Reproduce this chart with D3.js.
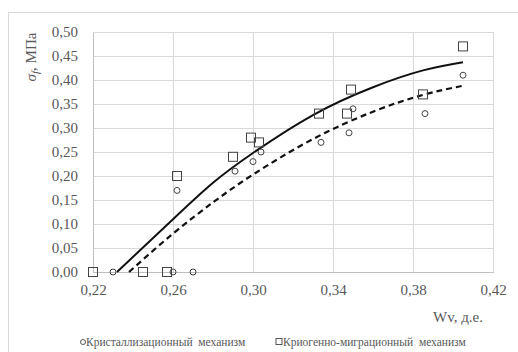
<!DOCTYPE html>
<html><head><meta charset="utf-8">
<script src="https://cdn.jsdelivr.net/npm/d3@7/dist/d3.min.js"></script>
<style>body{margin:0;background:#fff}svg{display:block}</style>
</head><body><svg id="c" width="518" height="352" font-family="Liberation Serif"></svg>
<script>
// Data
const xTicks = [0.22, 0.26, 0.30, 0.34, 0.38, 0.42];
const yTicks = [0, 0.05, 0.10, 0.15, 0.20, 0.25, 0.30, 0.35, 0.40, 0.45, 0.50];
const seriesNames = ["Кристаллизационный  механизм", "Криогенно-миграционный  механизм"];
// Crystallization mechanism (circles)
const crystX = [0.230, 0.260, 0.270, 0.262, 0.291, 0.300, 0.304, 0.334, 0.348, 0.350, 0.386, 0.405];
const crystY = [0.00, 0.00, 0.00, 0.17, 0.21, 0.23, 0.25, 0.27, 0.29, 0.34, 0.33, 0.41];
// Cryogenic-migration mechanism (squares)
const cryoX = [0.220, 0.245, 0.257, 0.262, 0.290, 0.299, 0.303, 0.333, 0.347, 0.349, 0.385, 0.405];
const cryoY = [0.00, 0.00, 0.00, 0.20, 0.24, 0.28, 0.27, 0.33, 0.33, 0.38, 0.37, 0.47];
// Trend lines
const trendCryoX = [0.232, 0.26, 0.28, 0.30, 0.33, 0.36, 0.385, 0.405];
const trendCryoY = [0.000, 0.110, 0.186, 0.248, 0.327, 0.385, 0.420, 0.437];
const trendCrystX = [0.238, 0.26, 0.28, 0.30, 0.33, 0.36, 0.385, 0.405];
const trendCrystY = [0.000, 0.080, 0.145, 0.203, 0.277, 0.334, 0.369, 0.388];

const FONT = "Liberation Serif";
const svg = d3.select("#c");
const fmt = d => d.toFixed(2).replace(".", ",");
const x = d3.scaleLinear().domain([0.22, 0.42]).range([93, 493]);
const y = d3.scaleLinear().domain([0, 0.5]).range([272, 32]);

// outer frame
svg.append("rect").attr("x", 8.5).attr("y", 12.5).attr("width", 530).attr("height", 360)
  .attr("fill", "none").attr("stroke", "#d9d9d9").attr("stroke-width", 1);

// grid
const grid = svg.append("g").attr("stroke", "#d9d9d9").attr("stroke-width", 1).attr("shape-rendering", "crispEdges");
yTicks.slice(1).forEach(t => grid.append("line").attr("x1", x(0.22)).attr("x2", x(0.42)).attr("y1", y(t)).attr("y2", y(t)));
xTicks.slice(1).forEach(t => grid.append("line").attr("x1", x(t)).attr("x2", x(t)).attr("y1", y(0)).attr("y2", y(0.5)));

// axes
const xAxis = svg.append("g").attr("transform", `translate(0,${y(0)})`)
  .call(d3.axisBottom(x).tickValues(xTicks).tickFormat(fmt).tickSize(0).tickPadding(12));
const yAxis = svg.append("g").attr("transform", `translate(${x(0.22)},0)`)
  .call(d3.axisLeft(y).tickValues(yTicks).tickFormat(fmt).tickSize(0).tickPadding(15));
[xAxis, yAxis].forEach(a => {
  a.attr("font-family", FONT).attr("font-size", 15);
  a.select(".domain").attr("stroke", "#bfbfbf").attr("shape-rendering", "crispEdges");
  a.selectAll("text").attr("fill", "#595959");
});

// clip
svg.append("clipPath").attr("id", "pc").append("rect")
  .attr("x", x(0.22)).attr("y", y(0.5)).attr("width", x(0.42) - x(0.22)).attr("height", y(0) - y(0.5) + 1);

const line = d3.line().x(d => x(d[0])).y(d => y(d[1])).curve(d3.curveNatural);
svg.append("path").datum(d3.zip(trendCryoX, trendCryoY)).attr("d", line)
  .attr("fill", "none").attr("stroke", "#111").attr("stroke-width", 2).attr("clip-path", "url(#pc)");
svg.append("path").datum(d3.zip(trendCrystX, trendCrystY)).attr("d", line)
  .attr("fill", "none").attr("stroke", "#111").attr("stroke-width", 2.2).attr("stroke-dasharray", "6,4").attr("clip-path", "url(#pc)");

// markers
const mk = svg.append("g").attr("fill", "none").attr("stroke", "#444").attr("stroke-width", 1);
d3.zip(cryoX, cryoY).forEach(d => mk.append("rect")
  .attr("x", x(d[0]) - 4.5).attr("y", y(d[1]) - 4.5).attr("width", 9).attr("height", 9));
d3.zip(crystX, crystY).forEach(d => mk.append("circle")
  .attr("cx", x(d[0])).attr("cy", y(d[1])).attr("r", 3));

// axis titles
const yt = svg.append("text").attr("transform", "translate(36,57) rotate(-90)")
  .attr("text-anchor", "middle").attr("font-family", FONT).attr("font-size", 15).attr("fill", "#595959");
yt.append("tspan").attr("font-style", "italic").text("σ");
yt.append("tspan").attr("font-style", "italic").attr("font-size", 11).attr("dy", 3).text("f");
yt.append("tspan").attr("dy", -3).text(", МПа");

svg.append("text").attr("x", 483).attr("y", 322).attr("text-anchor", "end")
  .attr("font-family", FONT).attr("font-size", 15).attr("fill", "#595959").text("Wv, д.е.");

// legend
const lg = svg.append("g").attr("fill", "#595959");
lg.append("circle").attr("cx", 83).attr("cy", 342).attr("r", 2.5).attr("fill", "none").attr("stroke", "#555");
lg.append("text").attr("x", 86).attr("y", 346).attr("font-family", FONT).attr("font-size", 11.5)
  .style("white-space", "pre").text(seriesNames[0]);
lg.append("rect").attr("x", 276).attr("y", 338.5).attr("width", 6).attr("height", 6).attr("fill", "none").attr("stroke", "#555");
lg.append("text").attr("x", 283).attr("y", 346).attr("font-family", FONT).attr("font-size", 11.5)
  .style("white-space", "pre").text(seriesNames[1]);
</script></body></html>
